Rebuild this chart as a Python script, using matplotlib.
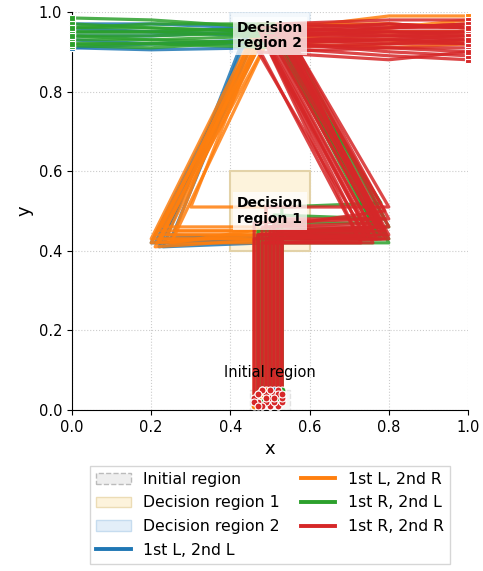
import numpy as np
import matplotlib
matplotlib.use("Agg")
import matplotlib.pyplot as plt
from matplotlib.patches import Rectangle, Patch
from matplotlib.lines import Line2D

# each trajectory: (start_x, start_y, turn_y, corner_x, corner_y, apex_x, apex_y, top_mid_y, end_y)
traj_LL = [
    (0.47, 0.02, 0.43, 0.21, 0.42, 0.46, 0.93, 0.92, 0.91),
    (0.49, 0.04, 0.42, 0.23, 0.41, 0.45, 0.96, 0.97, 0.97),
    (0.52, 0.03, 0.44, 0.22, 0.43, 0.47, 0.91, 0.905, 0.91),
    (0.48, 0.01, 0.43, 0.24, 0.44, 0.44, 0.95, 0.94, 0.94),
    (0.51, 0.05, 0.42, 0.20, 0.42, 0.46, 0.94, 0.95, 0.96),
    (0.53, 0.03, 0.44, 0.22, 0.41, 0.45, 0.92, 0.92, 0.93),
    (0.50, 0.02, 0.43, 0.25, 0.43, 0.47, 0.96, 0.95, 0.95),
]
traj_LR = [
    (0.48, 0.03, 0.44, 0.20, 0.42, 0.48, 0.93, 0.96, 0.98),
    (0.50, 0.01, 0.45, 0.22, 0.45, 0.47, 0.95, 0.99, 0.99),
    (0.52, 0.04, 0.43, 0.21, 0.41, 0.49, 0.92, 0.93, 0.92),
    (0.47, 0.02, 0.46, 0.23, 0.46, 0.46, 0.94, 0.95, 0.95),
    (0.49, 0.05, 0.51, 0.30, 0.51, 0.48, 0.96, 0.97, 0.96),
    (0.51, 0.02, 0.44, 0.24, 0.44, 0.47, 0.91, 0.92, 0.93),
    (0.53, 0.03, 0.43, 0.22, 0.43, 0.49, 0.95, 0.94, 0.94),
    (0.48, 0.04, 0.45, 0.26, 0.45, 0.45, 0.93, 0.96, 0.97),
    (0.50, 0.03, 0.44, 0.21, 0.44, 0.48, 0.94, 0.93, 0.92),
    (0.46, 0.01, 0.43, 0.20, 0.43, 0.47, 0.97, 0.97, 0.96),
    (0.52, 0.02, 0.46, 0.25, 0.42, 0.49, 0.92, 0.91, 0.92),
    (0.49, 0.04, 0.42, 0.22, 0.42, 0.48, 0.96, 0.95, 0.95),
]
traj_RL = [
    (0.50, 0.01, 0.44, 0.79, 0.44, 0.52, 0.93, 0.92, 0.92),
    (0.52, 0.03, 0.43, 0.78, 0.43, 0.51, 0.95, 0.96, 0.97),
    (0.47, 0.04, 0.45, 0.80, 0.46, 0.53, 0.94, 0.95, 0.95),
    (0.53, 0.02, 0.51, 0.78, 0.52, 0.50, 0.96, 0.98, 0.985),
    (0.48, 0.05, 0.44, 0.77, 0.44, 0.52, 0.92, 0.93, 0.93),
    (0.51, 0.02, 0.49, 0.79, 0.48, 0.54, 0.95, 0.94, 0.94),
    (0.49, 0.03, 0.43, 0.80, 0.43, 0.51, 0.97, 0.97, 0.96),
    (0.52, 0.01, 0.47, 0.78, 0.47, 0.53, 0.93, 0.91, 0.915),
    (0.47, 0.02, 0.44, 0.79, 0.45, 0.52, 0.96, 0.95, 0.95),
    (0.50, 0.04, 0.42, 0.80, 0.42, 0.50, 0.94, 0.93, 0.94),
    (0.53, 0.05, 0.45, 0.77, 0.45, 0.53, 0.91, 0.92, 0.92),
    (0.48, 0.02, 0.43, 0.79, 0.44, 0.51, 0.95, 0.96, 0.96),
]
traj_RR = [
    (0.47, 0.02, 0.44, 0.78, 0.44, 0.50, 0.94, 0.95, 0.95),
    (0.49, 0.04, 0.43, 0.80, 0.43, 0.52, 0.92, 0.91, 0.90),
    (0.52, 0.01, 0.45, 0.76, 0.45, 0.48, 0.95, 0.96, 0.97),
    (0.50, 0.03, 0.46, 0.79, 0.50, 0.54, 0.93, 0.93, 0.92),
    (0.48, 0.05, 0.42, 0.73, 0.42, 0.47, 0.96, 0.97, 0.96),
    (0.53, 0.02, 0.44, 0.77, 0.43, 0.51, 0.91, 0.89, 0.88),
    (0.51, 0.04, 0.48, 0.80, 0.48, 0.55, 0.94, 0.94, 0.95),
    (0.46, 0.03, 0.43, 0.75, 0.44, 0.49, 0.93, 0.92, 0.93),
    (0.50, 0.01, 0.45, 0.78, 0.46, 0.52, 0.97, 0.98, 0.98),
    (0.52, 0.05, 0.43, 0.74, 0.43, 0.50, 0.90, 0.91, 0.91),
    (0.47, 0.04, 0.44, 0.79, 0.45, 0.53, 0.95, 0.94, 0.94),
    (0.49, 0.02, 0.51, 0.80, 0.51, 0.56, 0.92, 0.90, 0.89),
    (0.53, 0.03, 0.42, 0.76, 0.42, 0.48, 0.94, 0.96, 0.97),
    (0.48, 0.01, 0.46, 0.77, 0.47, 0.51, 0.96, 0.95, 0.95),
    (0.51, 0.02, 0.44, 0.72, 0.44, 0.46, 0.93, 0.93, 0.94),
    (0.50, 0.05, 0.43, 0.80, 0.44, 0.54, 0.91, 0.92, 0.92),
    (0.46, 0.02, 0.47, 0.78, 0.48, 0.52, 0.95, 0.97, 0.96),
    (0.52, 0.04, 0.45, 0.75, 0.45, 0.49, 0.92, 0.93, 0.93),
    (0.49, 0.03, 0.42, 0.79, 0.43, 0.53, 0.97, 0.96, 0.96),
    (0.47, 0.01, 0.44, 0.77, 0.46, 0.50, 0.94, 0.95, 0.94),
    (0.53, 0.04, 0.43, 0.74, 0.44, 0.47, 0.90, 0.88, 0.90),
    (0.51, 0.03, 0.46, 0.80, 0.46, 0.55, 0.93, 0.94, 0.93),
]

groups = [
    ("1st L, 2nd L", traj_LL, 0.0, "tab:blue"),
    ("1st L, 2nd R", traj_LR, 1.0, "tab:orange"),
    ("1st R, 2nd L", traj_RL, 0.0, "tab:green"),
    ("1st R, 2nd R", traj_RR, 1.0, "tab:red"),
]

fig = plt.figure(figsize=(4.83, 5.71), dpi=100)
ax = fig.add_axes([0.149, 0.282, 0.820, 0.697])

# regions
ax.add_patch(Rectangle((0.45, 0.0), 0.1, 0.05, facecolor="#eeeeee", edgecolor="#cccccc",
                       ls="--", lw=1, alpha=0.5, zorder=1))
ax.add_patch(Rectangle((0.4, 0.4), 0.2, 0.2, facecolor="#fdf3dc", edgecolor="#e3d2a8",
                       lw=1.5, zorder=1))
ax.add_patch(Rectangle((0.4, 0.9), 0.2, 0.1, facecolor="#e3eef8", edgecolor="#c6dcef",
                       lw=1.5, alpha=0.4, zorder=1))

for name, trajs, end_x, col in groups:
    mid_x = 0.2 if end_x == 0.0 else 0.8
    for t in trajs:
        x0, y0, ty, cx, cy, axp, ayp, my, ey = t
        xs = [x0, x0, cx, axp, mid_x, end_x]
        ys = [y0, ty, cy, ayp, my, ey]
        ax.plot(xs, ys, color=col, lw=2.3, alpha=0.85, zorder=2)
        ax.plot([x0], [y0], "o", color=col, ms=5, mec="white", mew=0.8, zorder=4)
        ax.plot([end_x], [ey], "s", color=col, ms=5, mec="white", mew=0.8, zorder=4,
                clip_on=False)

ax.text(0.5, 0.095, "Initial region", ha="center", va="center", fontsize=10.5, zorder=6)
box = dict(boxstyle="square,pad=0.3", facecolor="white", edgecolor="none", alpha=0.75)
ax.text(0.5, 0.5, "Decision\nregion 1", ha="center", va="center", fontsize=10,
        fontweight="bold", bbox=box, zorder=6, linespacing=1.1)
ax.text(0.5, 0.94, "Decision\nregion 2", ha="center", va="center", fontsize=10,
        fontweight="bold", bbox=box, zorder=6, linespacing=1.1)

ax.set_xlim(0, 1)
ax.set_ylim(0, 1)
ax.set_xlabel("x", fontsize=13)
ax.set_ylabel("y", fontsize=13)
ax.tick_params(labelsize=10.5)
ax.grid(True, ls=":", color="#cccccc", lw=0.8)
ax.set_axisbelow(True)
for s in ["top", "right"]:
    ax.spines[s].set_visible(False)

handles = [
    Patch(facecolor="#eeeeee", edgecolor="#bbbbbb", ls="--", label="Initial region"),
    Patch(facecolor="#fdf3dc", edgecolor="#ecdcb5", label="Decision region 1"),
    Patch(facecolor="#e3eef8", edgecolor="#c6dcef", label="Decision region 2"),
]
for name, trajs, end_x, col in groups:
    handles.append(Line2D([0], [0], color=col, lw=2.8, label=name))

ax.legend(handles=handles, loc="upper center", bbox_to_anchor=(0.5, -0.12), ncol=2,
          fontsize=11.3, frameon=True, fancybox=False, edgecolor="#cccccc",
          columnspacing=1.3, handlelength=2.2, labelspacing=0.55)

fig.savefig("out.png", dpi=100)
